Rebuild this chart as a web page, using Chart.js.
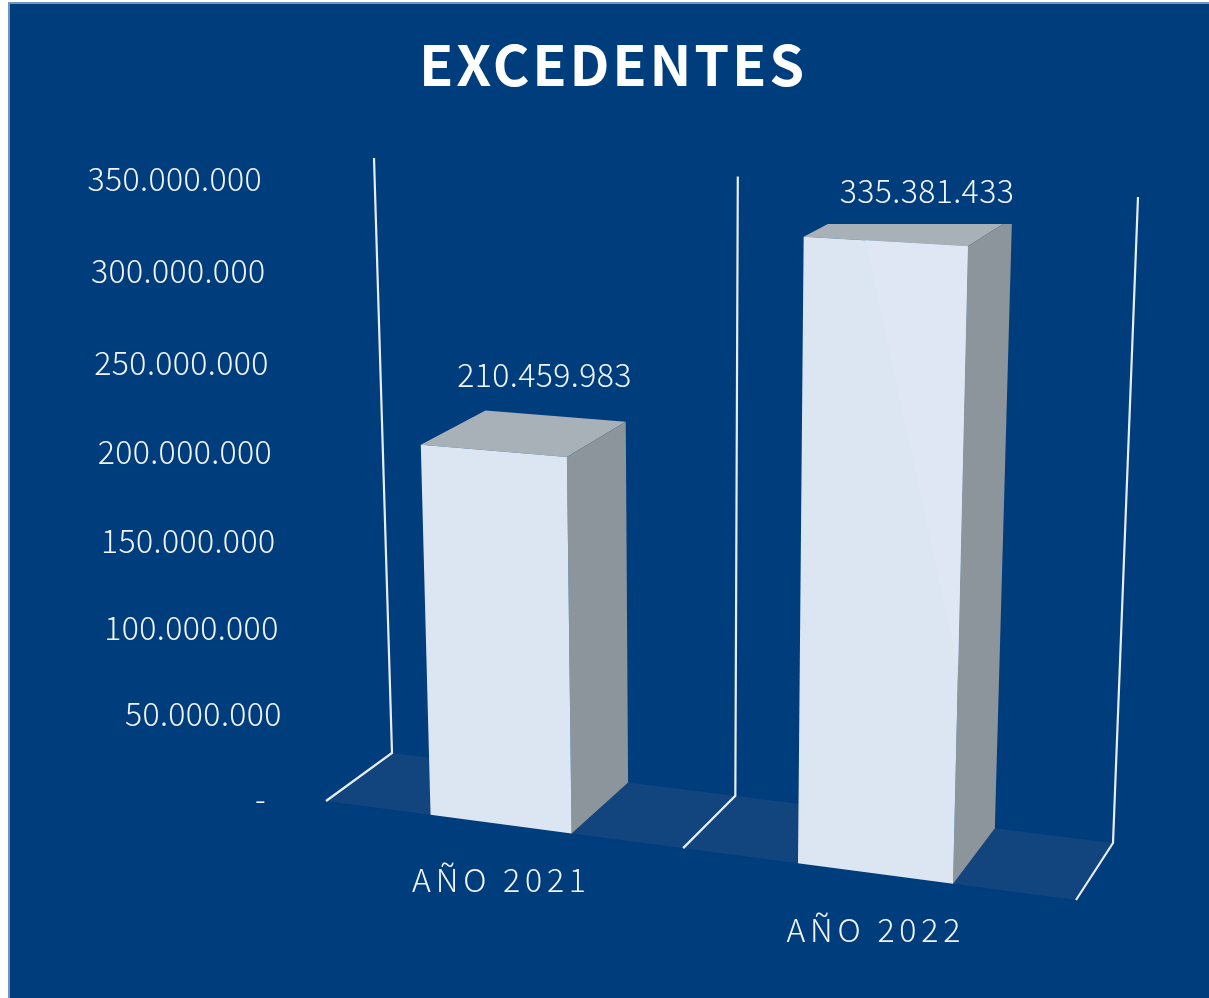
<!DOCTYPE html>
<html>
<head>
<meta charset="utf-8">
<title>Excedentes</title>
<script src="https://cdn.jsdelivr.net/npm/chart.js@4"></script>
<style>
  html, body { margin: 0; padding: 0; background: #fff; overflow: hidden; }
  canvas { display: block; }
</style>
</head>
<body>
<canvas id="chart" width="1209" height="998"></canvas>
<script>
const categories = ['AÑO 2021', 'AÑO 2022']
const excedentes = [210459983, 335381433]
const valueLabels = ['210.459.983', '335.381.433']
const yTickLabels = ['-', '50.000.000', '100.000.000', '150.000.000', '200.000.000', '250.000.000', '300.000.000', '350.000.000']

const FONT = '"Noto Sans CJK JP", "Noto Sans", sans-serif'
const BG = '#003D7D'
const LINE = '#E9EEF4'

// corners of the 3d box on the page, the chart area gets projected into it
const box = {
  backFloor: [[392, 753], [1113, 843]],
  backTop: [[374, 158], [1138, 197]],
  frontFloor: [[326, 801], [1076, 900]],
  frontTop: [[303, 181], [1099, 224]]
}

const lerp = (a, b, t) => a + (b - a) * t
const lerpPt = (a, b, t) => [lerp(a[0], b[0], t), lerp(a[1], b[1], t)]

// u along the categories, v up the value axis, w 0 at the back and 1 at the front
function project(u, v, w) {
  const uu = u / (1 + 0.1 * (1 - u))
  const vv = v / (1 + 0.05 * (1 - v))
  const floor = lerpPt(lerpPt(box.backFloor[0], box.backFloor[1], uu), lerpPt(box.frontFloor[0], box.frontFloor[1], uu), w)
  const top = lerpPt(lerpPt(box.backTop[0], box.backTop[1], uu), lerpPt(box.frontTop[0], box.frontTop[1], uu), w)
  return lerpPt(floor, top, vv)
}

function fillPoly(ctx, pts, color) {
  ctx.beginPath()
  pts.forEach((p, i) => i ? ctx.lineTo(p[0], p[1]) : ctx.moveTo(p[0], p[1]))
  ctx.closePath()
  ctx.fillStyle = color
  ctx.fill()
}

function text(ctx, str, x, y, align, spacing) {
  ctx.font = '300 32px ' + FONT
  ctx.letterSpacing = spacing || '0.4px'
  ctx.fillStyle = '#F2F5F9'
  ctx.textAlign = align
  ctx.textBaseline = 'middle'
  ctx.fillText(str, x, y - 2)
  ctx.letterSpacing = '0px'
}

const box3d = {
  id: 'box3d',
  beforeDraw(chart) {
    const ctx = chart.ctx
    ctx.save()
    ctx.fillStyle = '#6F94C6'
    ctx.fillRect(8, 2, chart.width - 8, chart.height - 2)
    ctx.fillStyle = BG
    ctx.fillRect(10, 4, chart.width - 10, chart.height - 4)
    ctx.restore()
    ctx.letterSpacing = '2.8px'
  },
  beforeDatasetsDraw(chart) {
    const ctx = chart.ctx
    const area = chart.chartArea
    const xs = chart.scales.x
    const ys = chart.scales.y
    const toU = x => (x - area.left) / (area.right - area.left)
    const toV = y => (area.bottom - y) / (area.bottom - area.top)

    ctx.save()
    ctx.letterSpacing = '0px'

    // floor
    fillPoly(ctx, [project(0, 0, 0), project(1, 0, 0), project(1, 0, 1), project(0, 0, 1)], '#12447E')

    // walls: one at each category boundary
    ctx.strokeStyle = LINE
    ctx.lineWidth = 2.2
    ctx.lineJoin = 'miter'
    for (let i = 0; i <= categories.length; i++) {
      const u = i / categories.length
      const pts = [project(u, 1, 0), project(u, 0, 0), project(u, 0, 1)]
      ctx.beginPath()
      pts.forEach((p, k) => k ? ctx.lineTo(p[0], p[1]) : ctx.moveTo(p[0], p[1]))
      ctx.stroke()
    }

    // y tick labels run along the front left edge
    ys.ticks.forEach(tick => {
      const p = project(0, toV(ys.getPixelForValue(tick.value)), 1)
      const shift = tick.value === 0 ? 60 : 41
      text(ctx, tick.label, p[0] - shift, p[1], 'right')
    })

    // bars, the tall one is cut at the top of the plot like in the source image
    ctx.save()
    ctx.beginPath()
    ctx.rect(0, 224, chart.width, chart.height)
    ctx.clip()
    chart.getDatasetMeta(0).data.forEach((bar, i) => {
      const l = toU(bar.x - bar.width / 2)
      const r = toU(bar.x + bar.width / 2)
      const t = toV(bar.y)
      fillPoly(ctx, [project(l, t, 1), project(l, t, 0), project(r, t, 0), project(r, t, 1)], '#A8B0B8')
      fillPoly(ctx, [project(r, t, 1), project(r, t, 0), project(r, 0, 0), project(r, 0, 1)], '#8C949C')
      fillPoly(ctx, [project(l, t, 1), project(r, t, 1), project(r, 0, 1), project(l, 0, 1)], bar.options.backgroundColor)
      // faint sheen on the tall bar
      if (i === 1) {
        fillPoly(ctx, [project(lerp(l, r, 0.38), t, 1), project(r, t, 1), project(r, t * 0.35, 1)], '#DEE7F3')
      }
    })
    ctx.restore()

    // category labels under the front edge
    categories.forEach((name, i) => {
      const p = project(toU(xs.getPixelForValue(i)), 0, 1)
      text(ctx, name, p[0] + 1, p[1] + 58, 'center', '4.8px')
    })

    // value labels over each bar
    const valueOffsets = [[-10.5, -39], [-5.5, -21]]
    chart.getDatasetMeta(0).data.forEach((bar, i) => {
      const p = project(toU(bar.x), toV(bar.y), 0)
      text(ctx, valueLabels[i], p[0] + valueOffsets[i][0], p[1] + valueOffsets[i][1], 'center')
    })
    ctx.restore()
    return false
  }
}

new Chart(document.getElementById('chart'), {
  type: 'bar',
  plugins: [box3d],
  data: {
    labels: categories,
    datasets: [{
      label: 'Excedentes',
      data: excedentes,
      backgroundColor: '#DCE6F2',
      categoryPercentage: 1,
      barPercentage: 0.395
    }]
  },
  options: {
    responsive: false,
    animation: false,
    layout: { padding: { left: 17 } },
    plugins: {
      legend: { display: false },
      tooltip: { enabled: false },
      title: {
        display: true,
        text: 'EXCEDENTES',
        color: '#FFFFFF',
        font: { family: FONT, size: 56, weight: 'bold' },
        padding: { top: 31, bottom: 20 }
      }
    },
    scales: {
      x: { display: false },
      y: {
        display: false,
        min: 0,
        max: 350000000,
        ticks: { stepSize: 50000000, callback: (value, i) => yTickLabels[i] }
      }
    }
  }
})
</script>
</body>
</html>
